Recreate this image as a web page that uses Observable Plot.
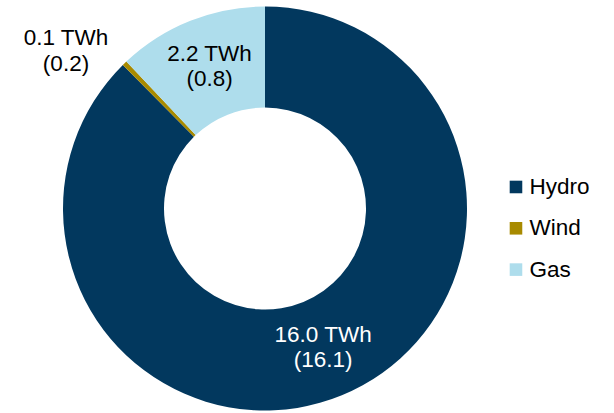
<!DOCTYPE html>
<html>
<head>
<meta charset="utf-8">
<script src="https://cdn.jsdelivr.net/npm/d3@7"></script>
<script src="https://cdn.jsdelivr.net/npm/@observablehq/plot@0.6"></script>
<style>
  html, body { margin: 0; padding: 0; background: #fff; }
</style>
</head>
<body>
<div id="chart"></div>
<script>
// ---- data ----
const sources = ["Hydro", "Wind", "Gas"];
const generation = [16.0, 0.07, 2.2];      // TWh, current period
const previous = [16.1, 0.2, 0.8];         // TWh, comparison period (in brackets)
const colors = ["#02385E", "#A88A00", "#AEDDEC"];
const labelColors = ["#ffffff", "#000000", "#000000"];

const table = sources.map((s, i) => ({
  source: s,
  value: generation[i],
  prev: previous[i],
  label: `${d3.format(".1f")(generation[i])} TWh\n(${d3.format(".1f")(previous[i])})`,
  labelColor: labelColors[i]
}));

// ---- geometry in data units (outer radius = 1) ----
const W = 614, H = 413;
const cxPx = 265, cyPx = 208.5, Rpx = 202;
const inner = 0.5;
const pie = d3.pie().sort(null).value(d => d.value);
const arcs = pie(table);
const midArc = d3.arc().innerRadius(inner).outerRadius(1);
const outArc = d3.arc().innerRadius(1.2).outerRadius(1.2);

const labels = arcs.map(a => {
  const outside = a.data.source === "Wind";
  const c = outside ? outArc.centroid(a) : midArc.centroid(a);
  return {...a.data, x: c[0], y: -c[1], outside};
});

// legend layout
const legend = table.map((d, i) => ({...d, lx: 1.24, ly: 0.109 - i * 0.2045}));

function donut(index, scales) {
  const x0 = scales.x(0), y0 = scales.y(0);
  const R = scales.x(1) - scales.x(0);
  const arc = d3.arc().innerRadius(R * inner).outerRadius(R);
  const g = d3.create("svg:g").attr("transform", `translate(${x0},${y0})`);
  g.selectAll("path")
    .data(arcs)
    .join("path")
    .attr("d", arc)
    .attr("fill", d => scales.color ? scales.color(d.data.source) : colors[sources.indexOf(d.data.source)]);
  return g.node();
}

const plot = Plot.plot({
  width: W,
  height: H,
  margin: 0,
  style: {fontFamily: "'Liberation Sans', Arial, sans-serif", background: "#fff", overflow: "visible"},
  x: {type: "linear", domain: [-cxPx / Rpx, (W - cxPx) / Rpx], range: [0, W], axis: null},
  y: {type: "linear", domain: [-(H - cyPx) / Rpx, cyPx / Rpx], range: [H, 0], axis: null},
  color: {domain: sources, range: colors},
  marks: [
    donut,
    Plot.text(labels.filter(d => !d.outside), {
      x: "x", y: "y", text: "label", fill: "labelColor",
      fontSize: 22.5, lineHeight: 1.13, dy: -3
    }),
    Plot.text(labels.filter(d => d.outside), {
      x: "x", y: "y", text: "label", fill: "labelColor",
      fontSize: 22.5, lineHeight: 1.13, dx: -31, dy: 15
    }),
    Plot.dot(legend, {x: "lx", y: "ly", fill: "source", symbol: "square", r: 7.1}),
    Plot.text(legend, {x: "lx", y: "ly", text: "source", textAnchor: "start", dx: 13.5, fontSize: 22.5, fill: "#000"})
  ]
});

document.getElementById("chart").appendChild(plot);
</script>
</body>
</html>
